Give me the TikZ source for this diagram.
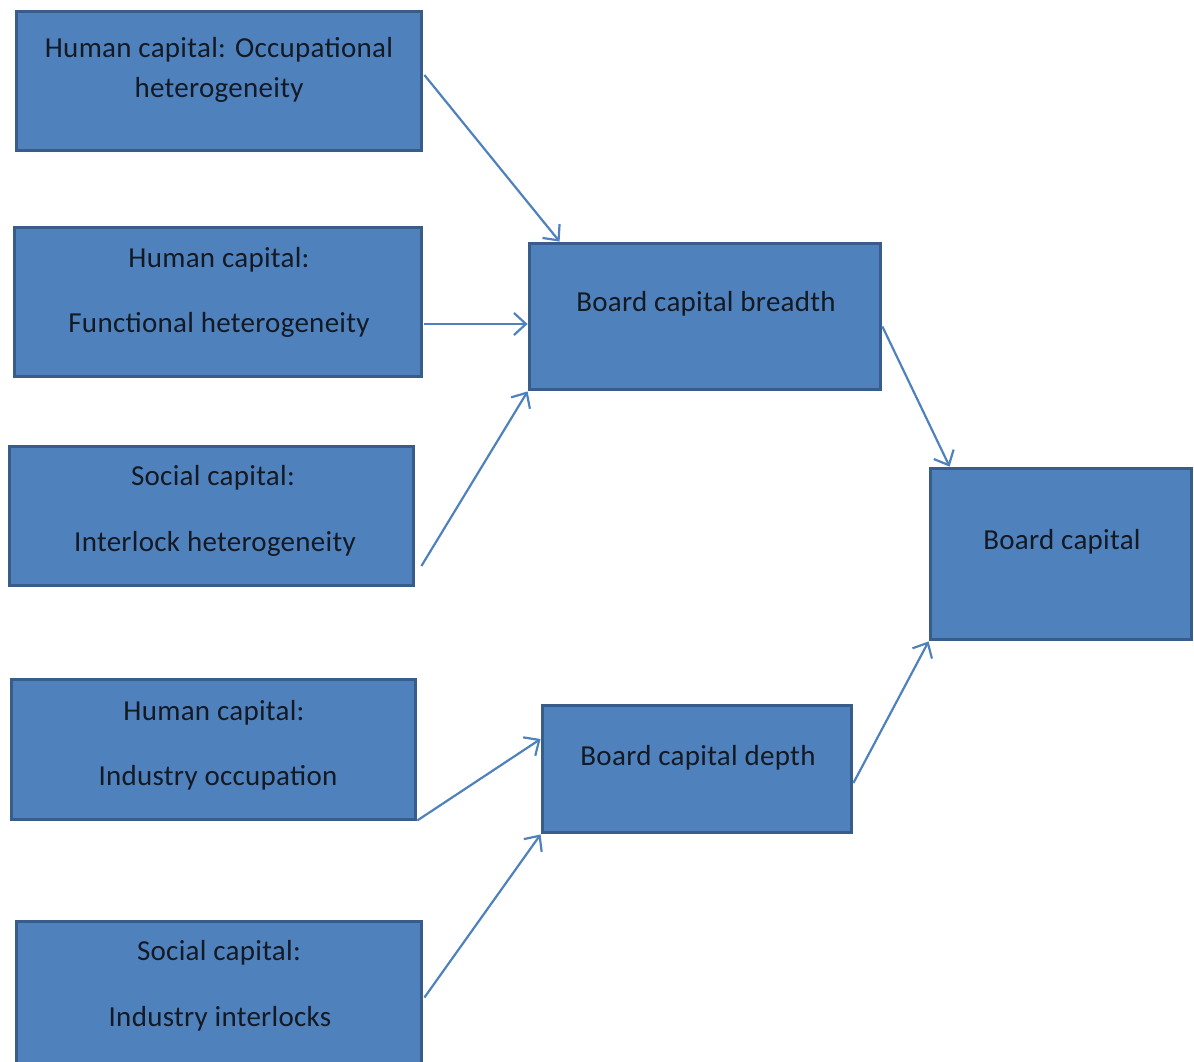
\documentclass[tikz,border=0pt]{standalone}
\usepackage{fontspec}
\setmainfont[LetterSpace=1]{Carlito}
\usetikzlibrary{arrows.meta,calc}
\definecolor{boxfill}{HTML}{4F81BD}
\definecolor{boxedge}{HTML}{385D8A}
\definecolor{linkcol}{HTML}{4F81BD}
\definecolor{inkcol}{HTML}{141A24}
\begin{document}
\begin{tikzpicture}[x=1pt,y=-1pt,
  block/.style={draw=boxedge,fill=boxfill,line width=3.8pt,rectangle,inner sep=0pt},
  caption/.style={anchor=base,inner sep=0pt,text=inkcol,font=\fontsize{29}{34}\selectfont},
  link/.style={draw=linkcol,line width=2.2pt,-{Straight Barb[length=12pt,width=22pt,line width=2.2pt]}}]
\useasboundingbox (0,0) rectangle (1194,1061);
% input blocks
\node[block,minimum width=405pt,minimum height=139pt] (a1) at (219,81) {};
\node[block,minimum width=407pt,minimum height=149pt] (a2) at (218,302) {};
\node[block,minimum width=404pt,minimum height=139pt] (a3) at (211.5,516) {};
\node[block,minimum width=404pt,minimum height=140pt] (a4) at (213.5,749.5) {};
\node[block,minimum width=405pt,minimum height=150pt] (a5) at (219,996.5) {};
% intermediate blocks
\node[block,minimum width=351pt,minimum height=146pt] (b1) at (705,316.5) {};
\node[block,minimum width=309pt,minimum height=127pt] (b2) at (697,769) {};
% outcome block
\node[block,minimum width=261pt,minimum height=171pt] (c) at (1061,554) {};
% captions
\node[caption] (t1a) at (219,57) {Human capital: Occupational};
\node[caption] (t1b) at (219,97) {heterogeneity};
\node[caption] (t2a) at (219,267) {Human capital:};
\node[caption] (t2b) at (219,332) {Functional heterogeneity};
\node[caption] (t3a) at (213,485) {Social capital:};
\node[caption] (t3b) at (215,551) {Interlock heterogeneity};
\node[caption] (t4a) at (214,720) {Human capital:};
\node[caption] (t4b) at (218,785) {Industry occupation};
\node[caption] (t5a) at (219,960) {Social capital:};
\node[caption] (t5b) at (220,1026) {Industry interlocks};
\node[caption] (tb1) at (706,311) {Board capital breadth};
\node[caption] (tb2) at (698,765) {Board capital depth};
\node[caption] (tc) at (1062,549) {Board capital};
% connectors
\draw[link] ($(a1.east)+(1,-6)$) -- ($(b1.north west)+(32,0)$);
\draw[link] ($(a2.east)+(1,22)$) -- ($(b1.west)+(0,7.5)$);
\draw[link] ($(a3.east)+(6,50)$) -- (b1.south west);
\draw[link] ($(b1.east)+(0,10)$) -- ($(c.north west)+(21,0)$);
\draw[link] ($(a4.south east)+(0,-1)$) -- ($(b2.west)+(0,-30)$);
\draw[link] ($(a5.east)+(1,1)$) -- (b2.south west);
\draw[link] ($(b2.east)+(0,14)$) -- (c.south west);
\end{tikzpicture}
\end{document}
